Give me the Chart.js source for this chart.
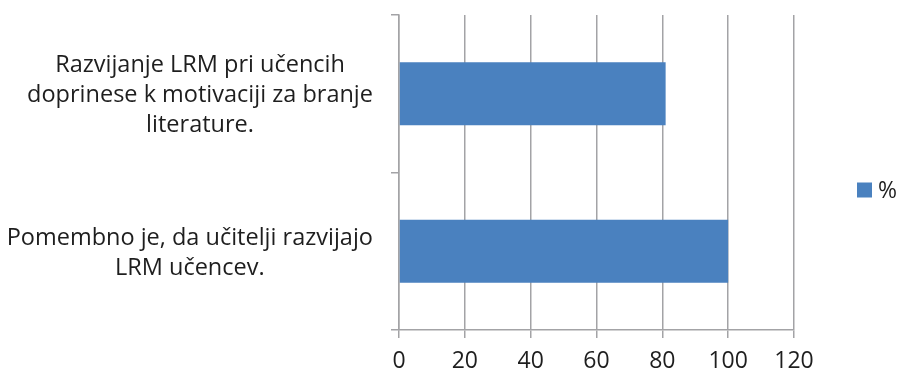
<!DOCTYPE html>
<html>
<head>
<meta charset="utf-8">
<script src="https://cdn.jsdelivr.net/npm/chart.js@4/dist/chart.umd.min.js"></script>
<style>
  html, body { margin: 0; padding: 0; background: #fff; }
  #wrap { width: 898px; height: 375px; }
</style>
</head>
<body>
<div id="wrap"><canvas id="c"></canvas></div>
<script>
// statements (wrapped into lines) and share of respondents
const categories = [
  ['Razvijanje LRM pri učencih', 'doprinese k motivaciji za branje', 'literature.'],
  ['Pomembno je, da učitelji razvijajo', 'LRM učencev.']
];
const percentValues = [81, 100];
const seriesName = '%';
const xTickValues = [0, 20, 40, 60, 80, 100, 120];

const FONT = "'Open Sans', sans-serif";
const TEXT = '#1e1e1e';
const GRID = '#a3a3a6';
const BAR = '#4a81bf';
const LINE_H = 30;

// category labels: lines centred on each other, block right-aligned next to the axis
const wrappedLabels = {
  id: 'wrappedLabels',
  afterDraw(chart) {
    const ys = chart.scales.y;
    const ctx = chart.ctx;
    ctx.save();
    ctx.font = '23.5px ' + FONT;
    ctx.fillStyle = TEXT;
    ctx.textAlign = 'center';
    ctx.textBaseline = 'middle';
    const right = ys.right - 26;
    categories.forEach(function (lines, i) {
      const cy = ys.getPixelForTick(i) + 2;
      const widest = Math.max.apply(null, lines.map(l => ctx.measureText(l).width));
      const cx = right - widest / 2;
      const top = cy - (lines.length - 1) * LINE_H / 2;
      lines.forEach((l, k) => ctx.fillText(l, cx, top + k * LINE_H));
    });
    ctx.restore();
  }
};

// single-series key to the right of the plot
const sideLegend = {
  id: 'sideLegend',
  afterDraw(chart) {
    const ds = chart.data.datasets[0];
    const ctx = chart.ctx;
    const x0 = chart.chartArea.right + 63;
    const cy = 190;
    ctx.save();
    ctx.fillStyle = ds.backgroundColor;
    ctx.fillRect(x0, cy - 7.5, 15, 15);
    ctx.font = '23px ' + FONT;
    ctx.fillStyle = TEXT;
    ctx.textAlign = 'left';
    ctx.textBaseline = 'alphabetic';
    ctx.fillText(ds.label, x0 + 21, cy + 8);
    ctx.restore();
  }
};

new Chart(document.getElementById('c'), {
  type: 'bar',
  data: {
    labels: categories,
    datasets: [{
      label: seriesName,
      data: percentValues,
      backgroundColor: BAR,
      borderWidth: 0,
      barPercentage: 0.4,
      categoryPercentage: 1
    }]
  },
  options: {
    indexAxis: 'y',
    responsive: true,
    maintainAspectRatio: false,
    animation: false,
    layout: { padding: { top: 15, right: 104, bottom: 0, left: 0 } },
    plugins: {
      tooltip: { enabled: false },
      legend: { display: false }
    },
    scales: {
      x: {
        min: xTickValues[0],
        max: xTickValues[xTickValues.length - 1],
        afterBuildTicks(s) { s.ticks = xTickValues.map(v => ({ value: v })); },
        afterFit(s) { s.height = 45; },
        ticks: { color: TEXT, font: { family: FONT, size: 23 }, padding: 10 },
        grid: { color: GRID, lineWidth: 1.5, tickLength: 8, tickColor: GRID },
        border: { color: GRID, width: 1.5 }
      },
      y: {
        afterFit(s) { s.width = 399; },
        ticks: { display: false },
        grid: { color: GRID, lineWidth: 1.5, drawOnChartArea: false, tickLength: 8, tickColor: GRID, offset: true },
        border: { color: GRID, width: 1.5 }
      }
    }
  },
  plugins: [wrappedLabels, sideLegend]
});
</script>
</body>
</html>
